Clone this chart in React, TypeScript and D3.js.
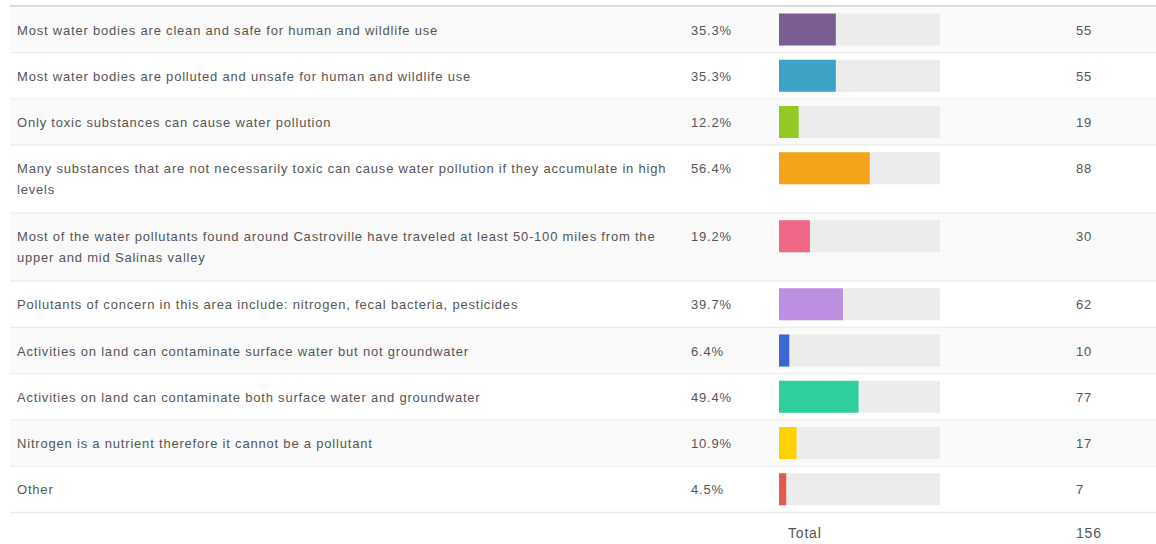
import React from "react";
import * as d3 from "d3";

const answers: string[] = [
  "Most water bodies are clean and safe for human and wildlife use",
  "Most water bodies are polluted and unsafe for human and wildlife use",
  "Only toxic substances can cause water pollution",
  "Many substances that are not necessarily toxic can cause water pollution if they accumulate in high levels",
  "Most of the water pollutants found around Castroville have traveled at least 50-100 miles from the upper and mid Salinas valley",
  "Pollutants of concern in this area include: nitrogen, fecal bacteria, pesticides",
  "Activities on land can contaminate surface water but not groundwater",
  "Activities on land can contaminate both surface water and groundwater",
  "Nitrogen is a nutrient therefore it cannot be a pollutant",
  "Other",
];
const percents: number[] = [35.3, 35.3, 12.2, 56.4, 19.2, 39.7, 6.4, 49.4, 10.9, 4.5];
const counts: number[] = [55, 55, 19, 88, 30, 62, 10, 77, 17, 7];
const colors: string[] = [
  "#7b5e91", "#3ea3c3", "#94c824", "#f4a41a", "#f06686",
  "#bd8fe0", "#3a66d6", "#2ecf9c", "#fcd300", "#e05a4e",
];
const totalLabel = "Total";
const totalCount = 156;

const W = 1156;
const H = 544;
const FONT = "13px 'Liberation Sans', Arial, sans-serif";
const LS = 0.8;

function wrap(text: string, maxW: number): string[] {
  const canvas = document.createElement("canvas");
  const ctx = canvas.getContext("2d")!;
  ctx.font = FONT;
  const words = text.split(" ");
  const lines: string[] = [];
  let cur = "";
  for (const w of words) {
    const t = cur ? cur + " " + w : w;
    if (ctx.measureText(t).width + LS * t.length > maxW && cur) {
      lines.push(cur);
      cur = w;
    } else cur = t;
  }
  if (cur) lines.push(cur);
  return lines;
}

export default function App() {
  const x = d3.scaleLinear().domain([0, 100]).range([779, 940]);
  const lineH = 21;
  const tableTop = 7;
  const rows = answers.map((a) => wrap(a, 660));
  let y = tableTop;
  const layout = rows.map((lines, i) => {
    const h = 24.5 + lines.length * 21.75;
    const r = { top: y, h, lines, i };
    y += h;
    return r;
  });
  const totalTop = y;
  const txt = { fontSize: 13, fill: "#555", letterSpacing: LS } as const;

  return (
    <div style={{ position: "absolute", left: 0, top: 0 }}>
      <svg width={W} height={H} style={{ display: "block", fontFamily: "'Liberation Sans', Arial, sans-serif" }}>
        <rect x={0} y={0} width={W} height={H} fill="#fff" />
        {layout.map((r) => (
          <g key={r.i}>
            <rect x={10} y={r.top} width={W - 10} height={r.h} fill={r.i % 2 === 0 ? "#fafafa" : "#ffffff"} />
            <line x1={10} x2={W} y1={r.top + r.h - 0.5} y2={r.top + r.h - 0.5} stroke="#ececec" strokeWidth={1.5} />
            {r.lines.map((ln, k) => (
              <text key={k} x={17} y={r.top + 23 + k * lineH} dy="0.35em" {...txt}>
                {ln}
              </text>
            ))}
            <text x={691} y={r.top + 23} dy="0.35em" {...txt}>
              {percents[r.i].toFixed(1)}%
            </text>
            <rect x={x(0)} y={r.top + 6.5} width={x(100) - x(0)} height={32} fill="#ececec" />
            <rect x={x(0)} y={r.top + 6.5} width={x(percents[r.i]) - x(0)} height={32} fill={colors[r.i]} />
            <text x={1076} y={r.top + 23} dy="0.35em" {...txt}>
              {counts[r.i]}
            </text>
          </g>
        ))}
        <line x1={10} x2={W} y1={6} y2={6} stroke="#dcdcdc" strokeWidth={2} />
        <text x={788} y={totalTop + 20} dy="0.35em" fontSize={14} fill="#555" letterSpacing={LS}>
          {totalLabel}
        </text>
        <text x={1076} y={totalTop + 20} dy="0.35em" fontSize={14} fill="#555" letterSpacing={LS}>
          {totalCount}
        </text>
      </svg>
    </div>
  );
}
